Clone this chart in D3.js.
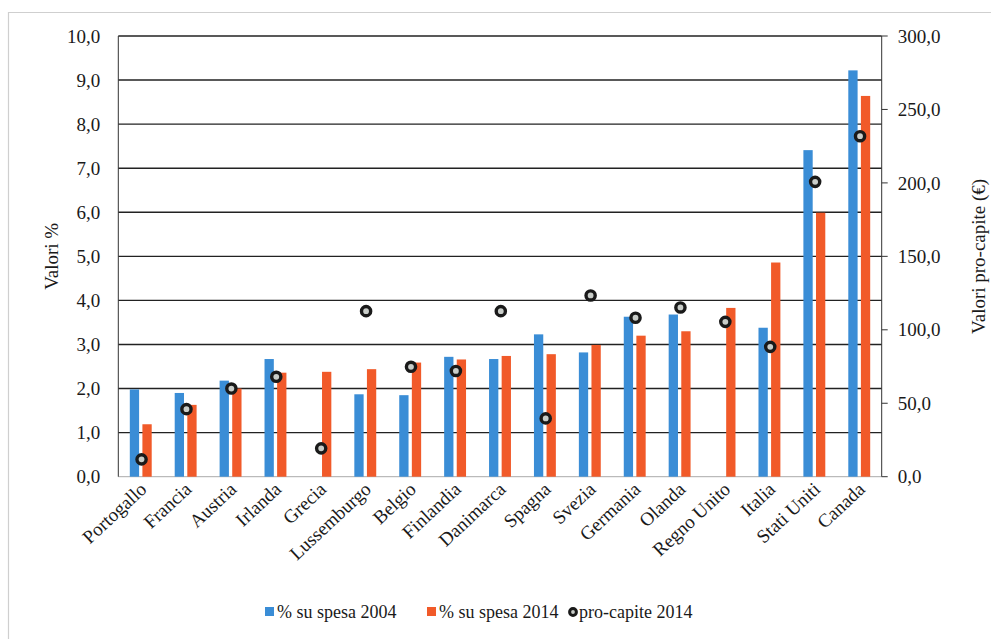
<!DOCTYPE html>
<html>
<head>
<meta charset="utf-8">
<script src="https://cdn.jsdelivr.net/npm/d3@7"></script>
<style>
  html, body { margin: 0; padding: 0; background: #fff; }
  svg text { font-family: "Liberation Serif", "DejaVu Serif", serif; }
  .grid line { stroke: #222; stroke-width: 1.4; }
  .tick-label { font-size: 19px; fill: #1a1a1a; }
  .cat-label { font-size: 19px; fill: #1a1a1a; }
  .axis-title { font-size: 19px; fill: #1a1a1a; }
  .legend text { font-size: 18px; fill: #1a1a1a; }
</style>
</head>
<body>
<div id="chart"></div>
<script>
const countries = ['Portogallo', 'Francia', 'Austria', 'Irlanda', 'Grecia', 'Lussemburgo', 'Belgio',
  'Finlandia', 'Danimarca', 'Spagna', 'Svezia', 'Germania', 'Olanda', 'Regno Unito', 'Italia',
  'Stati Uniti', 'Canada'];

// % su spesa 2004 (null = missing)
const spesa2004 = [1.98, 1.90, 2.18, 2.67, null, 1.87, 1.85, 2.72, 2.67, 3.23, 2.82, 3.63, 3.68, null, 3.38, 7.41, 9.22];
// % su spesa 2014
const spesa2014 = [1.19, 1.63, 2.00, 2.36, 2.38, 2.44, 2.59, 2.66, 2.74, 2.78, 2.99, 3.20, 3.30, 3.83, 4.86, 5.99, 8.64];
// pro-capite 2014 (€)
const proCapite2014 = [11.8, 46.0, 60.0, 68.0, 19.3, 112.7, 74.8, 72.0, 112.7, 39.7, 123.4, 108.2, 115.2, 105.4, 88.4, 200.7, 231.8];

const leftTicks = d3.range(0, 10.01, 1);
const rightTicks = d3.range(0, 300.1, 50);
const fmt = v => v.toFixed(1).replace('.', ',');

const W = 991, H = 639;
const plot = { left: 118.3, right: 881.7, top: 36, bottom: 476.7 };
const FONT = '"Liberation Serif", "DejaVu Serif", serif';

const svg = d3.select('#chart').append('svg')
  .attr('width', W)
  .attr('height', H)
  .attr('font-family', FONT);

// faint frame round the chart
svg.append('path')
  .attr('d', `M8.5,${H + 2} L8.5,12.5 L${W + 2},12.5`)
  .attr('fill', 'none')
  .attr('stroke', '#cfcfcf')
  .attr('stroke-width', 1.2);

const x = d3.scaleBand()
  .domain(countries)
  .range([plot.left, plot.right])
  .padding(0);

const yL = d3.scaleLinear().domain([0, 10]).range([plot.bottom, plot.top]);
const yR = d3.scaleLinear().domain([0, 300]).range([plot.bottom, plot.top]);

// gridlines
svg.append('g')
  .attr('class', 'grid')
  .selectAll('line')
  .data(leftTicks.filter(d => d > 0))
  .enter()
  .append('line')
  .attr('x1', plot.left)
  .attr('x2', plot.right)
  .attr('y1', d => yL(d))
  .attr('y2', d => yL(d));

// baseline
svg.append('line')
  .attr('x1', plot.left).attr('x2', plot.right)
  .attr('y1', yL(0)).attr('y2', yL(0))
  .attr('stroke', '#aaa')
  .attr('stroke-width', 1);

// left axis
svg.append('line')
  .attr('x1', plot.left).attr('x2', plot.left)
  .attr('y1', plot.top).attr('y2', plot.bottom)
  .attr('stroke', '#333')
  .attr('stroke-width', 1);

svg.append('g')
  .selectAll('text')
  .data(leftTicks)
  .enter()
  .append('text')
  .attr('class', 'tick-label')
  .attr('x', plot.left - 18)
  .attr('y', d => yL(d))
  .attr('dy', '0.35em')
  .attr('text-anchor', 'end')
  .text(fmt);

// right axis
svg.append('line')
  .attr('x1', plot.right).attr('x2', plot.right)
  .attr('y1', plot.top).attr('y2', plot.bottom)
  .attr('stroke', '#333')
  .attr('stroke-width', 1);

const rt = svg.append('g')
  .selectAll('g')
  .data(rightTicks)
  .enter()
  .append('g')
  .attr('transform', d => `translate(${plot.right},${yR(d)})`);

rt.append('line')
  .attr('x1', 0).attr('x2', 6)
  .attr('stroke', '#333');

rt.append('text')
  .attr('class', 'tick-label')
  .attr('x', 16)
  .attr('dy', '0.35em')
  .text(fmt);

// bars
const barW = 9.3;
const gap = 3.3;

svg.append('g')
  .selectAll('rect')
  .data(countries.map((c, i) => ({ c, v: spesa2004[i] })).filter(d => d.v != null))
  .enter()
  .append('rect')
  .attr('x', d => x(d.c) + x.bandwidth() / 2 - gap / 2 - barW)
  .attr('y', d => yL(d.v))
  .attr('width', barW)
  .attr('height', d => yL(0) - yL(d.v))
  .attr('fill', '#3a8dd6');

svg.append('g')
  .selectAll('rect')
  .data(countries.map((c, i) => ({ c, v: spesa2014[i] })))
  .enter()
  .append('rect')
  .attr('x', d => x(d.c) + x.bandwidth() / 2 + gap / 2)
  .attr('y', d => yL(d.v))
  .attr('width', barW)
  .attr('height', d => yL(0) - yL(d.v))
  .attr('fill', '#f15a29');

// pro-capite markers
svg.append('g')
  .selectAll('circle')
  .data(countries.map((c, i) => ({ c, v: proCapite2014[i] })))
  .enter()
  .append('circle')
  .attr('cx', d => x(d.c) + x.bandwidth() / 2 + 0.8)
  .attr('cy', d => yR(d.v))
  .attr('r', 4.6)
  .attr('fill', '#c9cdc9')
  .attr('stroke', '#1a1a1a')
  .attr('stroke-width', 3.4);

// category labels
svg.append('g')
  .selectAll('text')
  .data(countries)
  .enter()
  .append('text')
  .attr('class', 'cat-label')
  .attr('text-anchor', 'end')
  .attr('transform', d => `translate(${x(d) + x.bandwidth() / 2 + 7},${plot.bottom + 14}) rotate(-43)`)
  .text(d => d);

// axis titles
svg.append('text')
  .attr('class', 'axis-title')
  .attr('text-anchor', 'middle')
  .attr('transform', `translate(58,${(plot.top + plot.bottom) / 2}) rotate(-90)`)
  .text('Valori %');

svg.append('text')
  .attr('class', 'axis-title')
  .attr('text-anchor', 'middle')
  .attr('transform', `translate(985,${(plot.top + plot.bottom) / 2}) rotate(-90)`)
  .text('Valori pro-capite (€)');

// legend
const legend = svg.append('g').attr('class', 'legend');
const legendItems = [
  { label: '% su spesa 2004', type: 'rect', color: '#3a8dd6', x: 265 },
  { label: '% su spesa 2014', type: 'rect', color: '#f15a29', x: 427 },
  { label: 'pro-capite 2014', type: 'circle', x: 568 }
];
const ly = 612;
legendItems.forEach(it => {
  if (it.type === 'rect') {
    legend.append('rect')
      .attr('x', it.x).attr('y', ly - 5)
      .attr('width', 9).attr('height', 9)
      .attr('fill', it.color);
  } else {
    legend.append('circle')
      .attr('cx', it.x + 5).attr('cy', ly)
      .attr('r', 3.4)
      .attr('fill', '#c9cdc9')
      .attr('stroke', '#1a1a1a')
      .attr('stroke-width', 3);
  }
  legend.append('text')
    .attr('x', it.x + (it.type === 'rect' ? 12 : 11))
    .attr('y', ly)
    .attr('dy', '0.35em')
    .text(it.label);
});
</script>
</body>
</html>
